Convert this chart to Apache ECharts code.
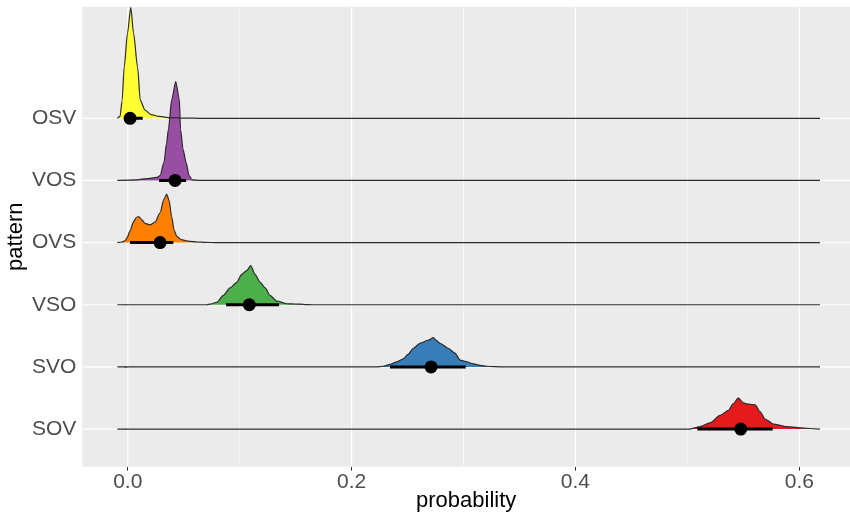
<!DOCTYPE html>
<html>
<head>
<meta charset="utf-8">
<title>pattern probability</title>
<script src="https://cdn.jsdelivr.net/npm/echarts@6/dist/echarts.min.js"></script>
<style>
  html, body { margin: 0; padding: 0; background: #ffffff; }
  #chart { width: 850px; height: 515px; }
</style>
</head>
<body>
<div id="chart"></div>
<script>
// Word-order patterns, bottom to top on the y axis
const categories = ['SOV', 'SVO', 'VSO', 'OVS', 'VOS', 'OSV'];

// Posterior density of each pattern: [probability, density height]
const densitySOV = [
  [-0.0093, 0], [0.5024, 0], [0.5068, 0.02], [0.5113, 0.04], [0.5202, 0.10], [0.5292, 0.22],
  [0.5366, 0.30], [0.5411, 0.41], [0.5455, 0.50], [0.5500, 0.42], [0.5545, 0.40], [0.5605, 0.39],
  [0.5649, 0.28], [0.5694, 0.16], [0.5768, 0.08], [0.5888, 0.04], [0.6007, 0.02], [0.6125, 0.005],
  [0.6185, 0]
];
const densitySVO = [
  [-0.0093, 0], [0.2225, 0], [0.2281, 0.01], [0.2343, 0.04], [0.2406, 0.08], [0.2462, 0.13],
  [0.2504, 0.20], [0.2552, 0.30], [0.2611, 0.38], [0.2686, 0.43], [0.2730, 0.47], [0.2754, 0.43],
  [0.2790, 0.38], [0.2864, 0.30], [0.2924, 0.22], [0.2969, 0.11], [0.3013, 0.09], [0.3088, 0.05],
  [0.3148, 0.025], [0.3207, 0.01], [0.3282, 0.003], [0.3371, 0], [0.6185, 0]
];
const densityVSO = [
  [-0.0093, 0], [0.0706, 0], [0.0735, 0.01], [0.0795, 0.04], [0.0854, 0.15], [0.0914, 0.27],
  [0.0974, 0.36], [0.1018, 0.49], [0.1063, 0.55], [0.1099, 0.63], [0.1137, 0.49], [0.1183, 0.36],
  [0.1228, 0.27], [0.1271, 0.15], [0.1331, 0.06], [0.1421, 0.016], [0.1495, 0.012], [0.1539, 0.01],
  [0.1599, 0.003], [0.1647, 0], [0.6185, 0]
];
const densityOVS = [
  [-0.0093, 0], [-0.0051, 0.01], [-0.0024, 0.03], [-0.0006, 0.08], [0.0021, 0.19], [0.0050, 0.33],
  [0.0074, 0.40], [0.0095, 0.42], [0.0119, 0.38], [0.0154, 0.31], [0.0199, 0.285], [0.0244, 0.33],
  [0.0289, 0.48], [0.0324, 0.70], [0.0348, 0.78], [0.0369, 0.68], [0.0393, 0.41], [0.0414, 0.20],
  [0.0438, 0.10], [0.0476, 0.05], [0.0521, 0.03], [0.0557, 0.02], [0.0619, 0.01], [0.0691, 0.003],
  [0.0780, 0], [0.6185, 0]
];
const densityVOS = [
  [-0.0093, 0], [0.0083, 0.01], [0.0172, 0.03], [0.0226, 0.04], [0.0262, 0.05], [0.0289, 0.08],
  [0.0324, 0.29], [0.0347, 0.60], [0.0363, 0.82], [0.0393, 1.30], [0.0429, 1.59], [0.0461, 1.30],
  [0.0472, 0.82], [0.0494, 0.50], [0.0521, 0.29], [0.0548, 0.08], [0.0575, 0.01], [0.0646, 0],
  [0.6185, 0]
];
const densityOSV = [
  [-0.0093, 0], [-0.0069, 0.03], [-0.0050, 0.29], [-0.0032, 0.82], [-0.0002, 1.37], [0.0027, 1.785],
  [0.0052, 1.37], [0.0088, 0.82], [0.0112, 0.29], [0.0155, 0.13], [0.0208, 0.06], [0.0280, 0.03],
  [0.0378, 0.01], [0.0512, 0.003], [0.0650, 0], [0.6185, 0]
];

// Point summaries (same order as categories)
const medians      = [0.5477, 0.2710, 0.1086, 0.0289, 0.0423, 0.0021];
const intervalLow  = [0.5089, 0.2343, 0.0878, 0.0021, 0.0280, -0.0015];
const intervalHigh = [0.5763, 0.3020, 0.1352, 0.0407, 0.0521, 0.0134];

// Axis ticks
const xTicks = [0, 0.2, 0.4, 0.6];
const xMinorTicks = [0.1, 0.3, 0.5];

const densities = {
  SOV: densitySOV, SVO: densitySVO, VSO: densityVSO,
  OVS: densityOVS, VOS: densityVOS, OSV: densityOSV
};
const fillColors = {
  SOV: '#E41A1C', SVO: '#377EB8', VSO: '#4DAF4A',
  OVS: '#FF7F00', VOS: '#984EA3', OSV: '#FFFF33'
};

const X_MIN = -0.0406, X_MAX = 0.6453;
const Y_MIN = 0.394, Y_MAX = 7.796;
const FONT = '"Liberation Sans", Arial, Helvetica, sans-serif';

const series = [];

// Panel grid lines
xTicks.forEach(v => series.push({
  type: 'line', silent: true, z: 1, symbol: 'none',
  data: [[v, Y_MIN], [v, Y_MAX]],
  lineStyle: { color: '#ffffff', width: 1.2 }
}));
xMinorTicks.forEach(v => series.push({
  type: 'line', silent: true, z: 1, symbol: 'none',
  data: [[v, Y_MIN], [v, Y_MAX]],
  lineStyle: { color: '#ffffff', width: 0.6 }
}));
categories.forEach((c, i) => series.push({
  type: 'line', silent: true, z: 1, symbol: 'none',
  data: [[X_MIN, i + 1], [X_MAX, i + 1]],
  lineStyle: { color: '#ffffff', width: 1.2 }
}));

// Slabs, drawn from the top row down so lower rows overlap upper baselines
for (let i = categories.length - 1; i >= 0; i--) {
  const name = categories[i];
  const base = i + 1;
  series.push({
    name: name,
    type: 'line',
    z: 3,
    symbol: 'none',
    smooth: 0.25,
    smoothMonotone: 'x',
    data: densities[name].map(p => [p[0], base + p[1]]),
    lineStyle: { color: '#2b2b2b', width: 1.2 },
    areaStyle: { color: fillColors[name], opacity: 1, origin: base }
  });
}

// Intervals and medians
categories.forEach((c, i) => {
  const base = i + 1;
  series.push({
    type: 'line', z: 4, symbol: 'none', silent: true,
    data: [[intervalLow[i], base], [intervalHigh[i], base]],
    lineStyle: { color: '#000000', width: 3, cap: 'butt' }
  });
  series.push({
    type: 'scatter', z: 5, silent: true,
    symbol: 'circle', symbolSize: 13,
    data: [[medians[i], base]],
    itemStyle: { color: '#000000', opacity: 1 }
  });
});

const chart = echarts.init(document.getElementById('chart'), null, { renderer: 'canvas' });
chart.setOption({
  animation: false,
  backgroundColor: '#ffffff',
  grid: {
    left: 82.3, right: 0, top: 6.7, bottom: 48.3,
    containLabel: false,
    outerBoundsMode: 'none',
    show: true, backgroundColor: '#EBEBEB', borderWidth: 0
  },
  xAxis: {
    type: 'value',
    min: X_MIN, max: X_MAX,
    name: 'probability',
    nameLocation: 'middle',
    nameGap: 23,
    nameMoveOverlap: false,
    nameTextStyle: { color: '#000000', fontSize: 22, fontFamily: FONT },
    axisLine: { show: false },
    splitLine: { show: false },
    axisTick: { show: true, length: 4, customValues: xTicks, lineStyle: { color: '#333333', width: 1 } },
    axisLabel: {
      customValues: xTicks, margin: 5,
      color: '#4D4D4D', fontSize: 21, fontFamily: FONT,
      formatter: v => v.toFixed(1)
    }
  },
  yAxis: {
    type: 'value',
    min: Y_MIN, max: Y_MAX,
    name: 'pattern',
    nameLocation: 'middle',
    nameRotate: 90,
    nameGap: 55,
    nameMoveOverlap: false,
    nameTextStyle: { color: '#000000', fontSize: 22, fontFamily: FONT },
    axisLine: { show: false },
    splitLine: { show: false },
    axisTick: { show: true, length: 4, customValues: [1, 2, 3, 4, 5, 6], lineStyle: { color: '#333333', width: 1 } },
    axisLabel: {
      customValues: [1, 2, 3, 4, 5, 6], margin: 6,
      color: '#4D4D4D', fontSize: 21, fontFamily: FONT,
      formatter: v => categories[Math.round(v) - 1]
    }
  },
  series: series
});
</script>
</body>
</html>
